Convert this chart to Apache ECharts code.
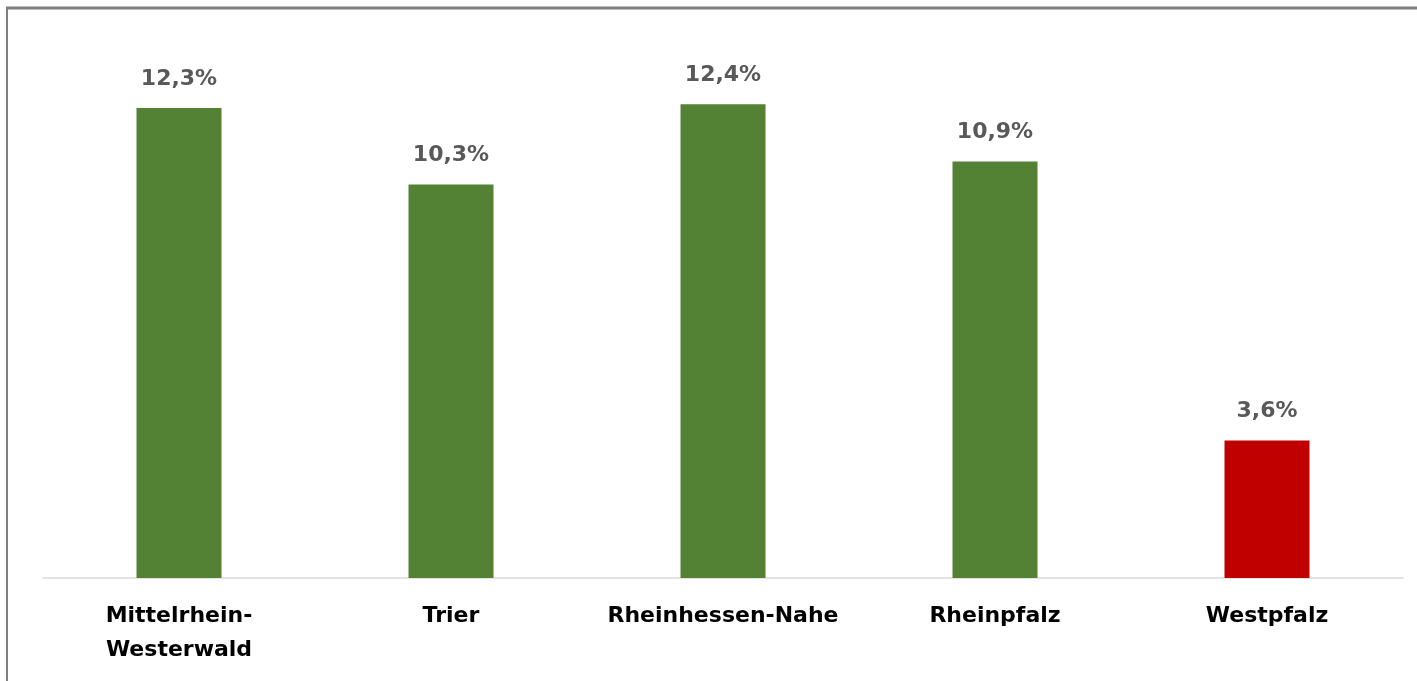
<!DOCTYPE html>
<html lang="de">
<head>
    <meta charset="UTF-8">
    <title>Regionen</title>
    <style>
        html, body {
            margin: 0;
            height: 100%;
            background: #fff;
        }
        #main {
            width: 1417px;
            height: 681px;
        }
    </style>
    <script src="https://cdn.jsdelivr.net/npm/echarts@6/dist/echarts.min.js"></script>
</head>
<body>
    <div id="main"></div>
    <script>
        const regions = ['Mittelrhein-\nWesterwald', 'Trier', 'Rheinhessen-Nahe', 'Rheinpfalz', 'Westpfalz']
        const values = [12.3, 10.3, 12.4, 10.9, 3.6]
        const barColors = ['#548235', '#548235', '#548235', '#548235', '#c00000']

        const myChart = echarts.init(document.getElementById('main'))

        myChart.setOption({
            animation: false,
            grid: {
                left: 43,
                right: 14,
                top: 43,
                bottom: 103
            },
            graphic: [
                // Rahmen oben und links
                { type: 'line', shape: { x1: 6, y1: 8, x2: 1417, y2: 8 }, style: { stroke: '#7f7f7f', lineWidth: 3 } },
                { type: 'line', shape: { x1: 7, y1: 7, x2: 7, y2: 681 }, style: { stroke: '#7f7f7f', lineWidth: 2 } }
            ],
            xAxis: {
                type: 'category',
                data: regions,
                axisTick: { show: false },
                axisLine: { lineStyle: { color: '#d9d9d9', width: 1.5 } },
                axisLabel: {
                    interval: 0,
                    margin: 21,
                    color: '#000',
                    fontSize: 22,
                    fontWeight: 'bold',
                    fontFamily: 'DejaVu Sans',
                    lineHeight: 34
                }
            },
            yAxis: {
                type: 'value',
                min: 0,
                max: 14,
                show: false,
                splitLine: { show: false }
            },
            series: [{
                type: 'bar',
                barWidth: 85,
                data: values.map((v, i) => ({ value: v, itemStyle: { color: barColors[i] } })),
                label: {
                    show: true,
                    position: 'top',
                    distance: 18,
                    color: '#595959',
                    fontSize: 22,
                    fontWeight: 'bold',
                    fontFamily: 'DejaVu Sans',
                    formatter: p => p.value.toFixed(1).replace('.', ',') + '%'
                }
            }]
        })
    </script>
</body>
</html>
